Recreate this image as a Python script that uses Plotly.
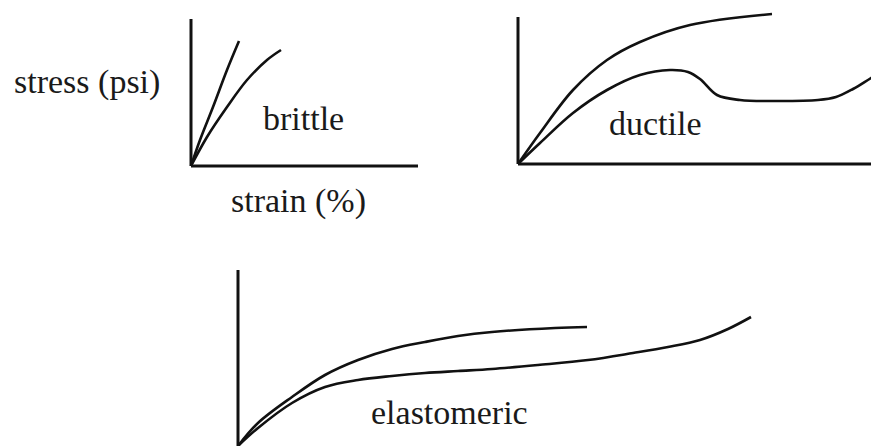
import plotly.graph_objects as go

# Sketch values in pixel-like units, measured from each panel's origin
brittle_stiff_x = [0, 9, 22, 36, 48]
brittle_stiff_y = [0, 26, 59, 96, 125]
brittle_soft_x = [0, 16, 36, 56, 76, 90]
brittle_soft_y = [0, 29, 59, 86, 106, 116]

ductile_upper_x = [0, 22, 55, 89, 122, 172, 254]
ductile_upper_y = [0, 31, 74, 104, 122, 139, 150]
ductile_lower_x = [0, 22, 55, 89, 122, 152, 170, 182, 199, 222, 260, 300, 318, 335, 353, 365]
ductile_lower_y = [0, 21, 51, 74, 89, 94, 92, 85, 69, 64, 63, 64, 67, 75, 86, 93]

elast_upper_x = [0, 20, 54, 87, 120, 154, 187, 220, 254, 317, 349]
elast_upper_y = [0, 23, 49, 71, 86, 97, 104, 110, 114, 118, 119]
elast_lower_x = [0, 20, 54, 87, 120, 154, 187, 220, 254, 300, 350, 395, 430, 462, 490, 513]
elast_lower_y = [0, 18, 43, 59, 66, 70, 73, 75, 77, 81, 86, 93, 99, 106, 117, 129]

W, H = 871, 446
INK = '#111111'
FONT = 'Liberation Serif'

# panel: origin pixel (ox, oy), axis lengths, how far the curves may reach
panels = [
    dict(ox=191, oy=166, ax_len=227, ay_len=147, right=230, top=150, pad=4),
    dict(ox=518, oy=164, ax_len=353, ay_len=147, right=353, top=156, pad=4),
    dict(ox=238, oy=446, ax_len=None, ay_len=176, right=560, top=180, pad=0),
]
series = [
    [(brittle_stiff_x, brittle_stiff_y), (brittle_soft_x, brittle_soft_y)],
    [(ductile_upper_x, ductile_upper_y), (ductile_lower_x, ductile_lower_y)],
    [(elast_upper_x, elast_upper_y), (elast_lower_x, elast_lower_y)],
]

fig = go.Figure()
shapes = []
layout_axes = {}
for i, (p, curves) in enumerate(zip(panels, series), start=1):
    xa = 'x' if i == 1 else f'x{i}'
    ya = 'y' if i == 1 else f'y{i}'
    padl = 4
    padb = p['pad']
    x0 = max(p['ox'] - padl, 0)
    x1 = min(p['ox'] + p['right'], W)
    y0 = max(H - p['oy'] - padb, 0)
    y1 = min(H - p['oy'] + p['top'], H)
    layout_axes['xaxis' if i == 1 else f'xaxis{i}'] = dict(
        domain=[x0 / W, x1 / W], range=[x0 - p['ox'], x1 - p['ox']],
        visible=False, fixedrange=True, anchor=ya)
    layout_axes['yaxis' if i == 1 else f'yaxis{i}'] = dict(
        domain=[y0 / H, y1 / H], range=[y0 - (H - p['oy']), y1 - (H - p['oy'])],
        visible=False, fixedrange=True, anchor=xa)

    for cx, cy in curves:
        fig.add_trace(go.Scatter(
            x=cx, y=cy, xaxis=xa, yaxis=ya, mode='lines',
            line=dict(color=INK, width=2.6, shape='spline', smoothing=1.0),
            hoverinfo='skip', showlegend=False))

    shapes.append(dict(type='line', xref=xa, yref=ya, x0=0, y0=0, x1=0,
                       y1=p['ay_len'], line=dict(color=INK, width=3)))
    if p['ax_len']:
        shapes.append(dict(type='line', xref=xa, yref=ya, x0=0, y0=0,
                           x1=p['ax_len'], y1=0, line=dict(color=INK, width=3)))

labels = [
    ('stress (psi)', 87, 89),
    ('strain (%)', 298, 208),
    ('brittle', 303, 125),
    ('ductile', 655, 130),
    ('elastomeric', 450, 419),
]
annotations = [
    dict(text=t, x=px / W, y=1 - (py - 7) / H, xref='paper', yref='paper',
         xanchor='center', yanchor='middle', showarrow=False,
         font=dict(family=FONT, size=34, color='#1a1a1a'))
    for t, px, py in labels
]

fig.update_layout(
    width=W, height=H,
    margin=dict(l=0, r=0, t=0, b=0),
    paper_bgcolor='white', plot_bgcolor='rgba(0,0,0,0)',
    font=dict(family=FONT),
    shapes=shapes, annotations=annotations,
    **layout_axes
)

fig.write_html('out.html', config={'displayModeBar': False},
               post_script="document.body.style.margin='0';")
